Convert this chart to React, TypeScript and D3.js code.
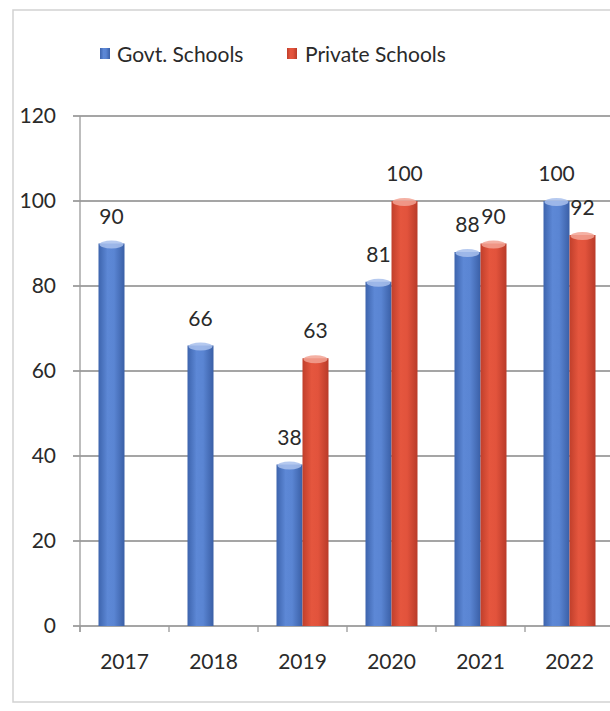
import React from "react";
import * as d3 from "d3";

const years = ["2017", "2018", "2019", "2020", "2021", "2022"];
const seriesNames = ["Govt. Schools", "Private Schools"];
const govt: (number | null)[] = [90, 66, 38, 81, 88, 100];
const priv: (number | null)[] = [null, null, 63, 100, 90, 92];
const yTicks = [0, 20, 40, 60, 80, 100, 120];

const W = 610;
const H = 711;
const FONT = "Lato, 'Open Sans', sans-serif";
const FS = 21;

export default function App() {
  const left = 80;
  const top = 116;
  const bottom = 626;
  const bandW = 89;
  const x0 = d3.scaleBand<string>().domain(years).range([left, left + bandW * years.length]).padding(0);
  const bw = x0.bandwidth();
  const x1 = d3.scaleBand<string>().domain(seriesNames).range([(bw - 52) / 2, (bw + 52) / 2]).padding(0);
  const y = d3.scaleLinear().domain([0, 120]).range([bottom, top]);
  const colors = ["blue", "red"];
  const data = [govt, priv];
  const capColors = ["#a8c0ec", "#f2a293"];

  return (
    <svg width={W} height={H} style={{ position: "absolute", left: 0, top: 0, background: "#fff" }}>
      <defs>
        <linearGradient id="blue" x1="0" x2="1" y1="0" y2="0">
          <stop offset="0" stopColor="#3d64ad" />
          <stop offset="0.35" stopColor="#5d88d6" />
          <stop offset="0.6" stopColor="#5a85d3" />
          <stop offset="1" stopColor="#3a5fa6" />
        </linearGradient>
        <linearGradient id="red" x1="0" x2="1" y1="0" y2="0">
          <stop offset="0" stopColor="#c03f2b" />
          <stop offset="0.35" stopColor="#e5563e" />
          <stop offset="0.6" stopColor="#e2533c" />
          <stop offset="1" stopColor="#b93b29" />
        </linearGradient>
      </defs>
      <rect x={0} y={0} width={W} height={H} fill="#fff" />
      {/* outer frame */}
      <rect x={13} y={10} width={W + 20} height={692} fill="none" stroke="#d2d2d2" strokeWidth={1.5} />

      {/* legend */}
      <g fontFamily={FONT} fontSize={FS} fill="#2a2a2a">
        <rect x={100} y={48} width={10} height={11} fill="url(#blue)" />
        <text x={117} y={62}>{seriesNames[0]}</text>
        <rect x={287} y={48} width={10} height={11} fill="url(#red)" />
        <text x={305} y={62}>{seriesNames[1]}</text>
      </g>

      {/* gridlines and y ticks */}
      {yTicks.map((t) => (
        <g key={t}>
          <line x1={73} x2={W} y1={y(t)} y2={y(t)} stroke="#878787" strokeWidth={1.4} />
          <text x={56} y={y(t) + 7} textAnchor="end" fontFamily={FONT} fontSize={FS} fill="#2a2a2a">
            {t}
          </text>
        </g>
      ))}
      {/* y axis line */}
      <line x1={left} x2={left} y1={top} y2={bottom + 6} stroke="#9a9a9a" strokeWidth={1.3} />

      {/* x ticks */}
      {years.map((yr) => (
        <line key={"t" + yr} x1={x0(yr)!} x2={x0(yr)!} y1={bottom} y2={bottom + 6} stroke="#9a9a9a" strokeWidth={1.3} />
      ))}
      {years.map((yr) => (
        <text
          key={"l" + yr}
          x={x0(yr)! + bw / 2}
          y={669}
          textAnchor="middle"
          fontFamily={FONT}
          fontSize={FS}
          fill="#2a2a2a"
        >
          {yr}
        </text>
      ))}

      {/* bars */}
      {years.map((yr, i) => (
        <g key={"b" + yr} transform={`translate(${x0(yr)},0)`}>
          {seriesNames.map((s, j) => {
            const v = data[j][i];
            if (v == null) return null;
            const bx = x1(s)!;
            const w = x1.bandwidth();
            const yt = y(v);
            return (
              <g key={s}>
                <rect x={bx} y={yt} width={w} height={bottom - yt} fill={`url(#${colors[j]})`} />
                <ellipse cx={bx + w / 2} cy={yt + 1} rx={w / 2 - 1} ry={4} fill={capColors[j]} opacity={0.85} />
                <text
                  x={bx + w / 2}
                  y={yt - 20}
                  textAnchor="middle"
                  fontFamily={FONT}
                  fontSize={FS}
                  fill="#2a2a2a"
                >
                  {v}
                </text>
              </g>
            );
          })}
        </g>
      ))}
    </svg>
  );
}
